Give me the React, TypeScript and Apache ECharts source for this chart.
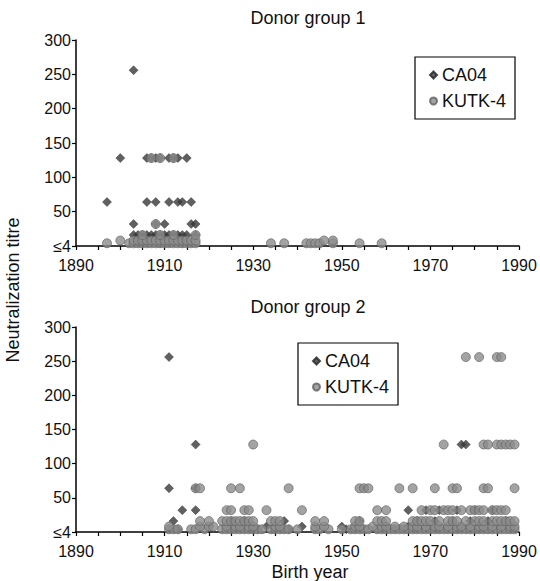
import React, { useEffect, useRef } from "react";
import * as echarts from "echarts";

// titre levels (index matches the year lists below)
const titres = [4, 8, 16, 32, 64, 128, 256];
const xMin = 1890;
const xMax = 1990;
const yMax = 300;
const seriesNames = ["CA04", "KUTK-4"];
const groupTitles = ["Donor group 1", "Donor group 2"];

// Donor group 1 — birth years per titre level
const g1CA04: number[][] = [
  [1905, 1909, 1914],
  [1904, 1906, 1910, 1912, 1914],
  [1903, 1904, 1905, 1906, 1907, 1908, 1909, 1910, 1911, 1912, 1913, 1914, 1915, 1917],
  [1903, 1908, 1910, 1916, 1917],
  [1897, 1906, 1908, 1911, 1913, 1914, 1916],
  [1900, 1906, 1907, 1908, 1909, 1911, 1912, 1913, 1915],
  [1903],
];
const g1KUTK: number[][] = [
  [1897, 1902, 1903, 1904, 1905, 1906, 1907, 1908, 1909, 1910, 1911, 1912, 1913, 1914, 1915, 1916, 1917, 1934, 1937, 1942, 1943, 1944, 1945, 1948, 1954, 1959],
  [1900, 1903, 1904, 1905, 1906, 1907, 1908, 1909, 1910, 1911, 1912, 1913, 1914, 1915, 1916, 1917, 1946, 1948],
  [1905, 1909, 1912, 1917],
  [1908],
  [],
  [1907, 1909, 1912],
  [],
];

// Donor group 2 — birth years per titre level
const g2CA04: number[][] = [
  [1913, 1931, 1938, 1951, 1970],
  [1933, 1941, 1950, 1960, 1965],
  [1912, 1925, 1928, 1937, 1954, 1967, 1971, 1975, 1979, 1983, 1987],
  [1914, 1917, 1965, 1969, 1972, 1976, 1980, 1984],
  [1911, 1917],
  [1917, 1977, 1978],
  [1911],
];
const g2KUTK: number[][] = [
  [1911, 1912, 1913, 1916, 1917, 1919, 1923, 1924, 1925, 1926, 1927, 1928, 1929, 1930, 1931, 1932, 1934, 1935, 1936, 1937, 1938, 1940, 1944, 1945, 1947, 1950, 1952, 1953, 1954, 1955, 1956, 1958, 1959, 1960, 1961, 1962, 1963, 1964, 1965, 1966, 1967, 1968, 1969, 1970, 1971, 1972, 1973, 1974, 1975, 1976, 1977, 1978, 1979, 1980, 1981, 1982, 1983, 1984, 1985, 1986, 1987, 1988, 1989],
  [1911, 1918, 1920, 1921, 1924, 1926, 1927, 1929, 1930, 1935, 1936, 1944, 1946, 1953, 1954, 1957, 1959, 1960, 1962, 1964, 1966, 1967, 1969, 1971, 1972, 1974, 1976, 1977, 1979, 1981, 1982, 1984, 1986, 1988, 1989],
  [1918, 1920, 1923, 1924, 1925, 1926, 1927, 1928, 1929, 1930, 1934, 1935, 1936, 1944, 1946, 1953, 1954, 1958, 1959, 1960, 1966, 1967, 1968, 1969, 1970, 1972, 1974, 1975, 1976, 1978, 1980, 1981, 1982, 1984, 1985, 1986, 1987, 1988, 1989],
  [1924, 1925, 1928, 1929, 1933, 1941, 1958, 1960, 1968, 1970, 1971, 1973, 1974, 1975, 1977, 1979, 1980, 1981, 1982, 1984, 1985, 1986, 1987],
  [1917, 1918, 1925, 1927, 1938, 1954, 1955, 1956, 1963, 1966, 1971, 1975, 1976, 1982, 1983, 1989],
  [1930, 1973, 1982, 1983, 1985, 1986, 1987, 1988, 1989],
  [1978, 1981, 1985, 1986],
];

const toPairs = (lists: number[][]) =>
  lists.flatMap((years, i) => years.map((y) => [y, titres[i]]));

const FONT = "Arial, 'Liberation Sans', sans-serif";

export default function App() {
  const ref = useRef<HTMLDivElement>(null);

  useEffect(() => {
    if (!ref.current) return;
    const chart = echarts.init(ref.current, undefined, { renderer: "svg" });

    const grids = [
      { left: 76, right: 21, top: 40, height: 206 },
      { left: 76, right: 21, top: 327, height: 205 },
    ];

    const xAxis = [0, 1].map((i) => ({
      type: "value",
      gridIndex: i,
      min: xMin,
      max: xMax,
      interval: 5,
      axisLine: { show: true, lineStyle: { color: "#000", width: 1.5 } },
      axisTick: { show: true, length: 4, inside: false, lineStyle: { color: "#000", width: 1.2 } },
      splitLine: { show: false },
      axisLabel: {
        color: "#111",
        fontSize: 16,
        fontFamily: FONT,
        margin: 11,
        formatter: (v: number) => ((v - xMin) % 20 === 0 ? String(v) : ""),
      },
    }));

    const yAxis = [0, 1].map((i) => ({
      type: "value",
      gridIndex: i,
      min: 0,
      max: yMax,
      interval: 50,
      axisLine: { show: true, lineStyle: { color: "#000", width: 1.5 } },
      axisTick: { show: true, length: 4, inside: false, lineStyle: { color: "#000", width: 1.2 } },
      splitLine: { show: false },
      axisLabel: {
        color: "#111",
        fontSize: 16,
        fontFamily: FONT,
        margin: 5,
        formatter: (v: number) => (v === 0 ? "≤4" : String(v)),
      },
    }));

    const diamondStyle = { color: "#383838", borderColor: "#222", borderWidth: 0.5 };
    const circleStyle = { color: "#8c8c8c", borderColor: "#5e5e5e", borderWidth: 0.8 };

    const groups = [
      [g1CA04, g1KUTK],
      [g2CA04, g2KUTK],
    ];
    const series: any[] = [];
    groups.forEach((g, i) => {
      series.push({
        type: "scatter",
        name: seriesNames[0],
        xAxisIndex: i,
        yAxisIndex: i,
        symbol: "diamond",
        symbolSize: 9,
        itemStyle: diamondStyle,
        data: toPairs(g[0]),
      });
      series.push({
        type: "scatter",
        name: seriesNames[1],
        xAxisIndex: i,
        yAxisIndex: i,
        symbol: "circle",
        symbolSize: 9,
        itemStyle: circleStyle,
        data: toPairs(g[1]),
      });
    });

    const legendBase = {
      orient: "vertical",
      data: [
        { name: seriesNames[0], icon: "diamond" },
        { name: seriesNames[1], icon: "circle" },
      ],
      itemWidth: 7,
      itemHeight: 7,
      itemGap: 8,
      padding: [9, 9, 9, 14],
      borderColor: "#000",
      borderWidth: 1.2,
      backgroundColor: "#fff",
      textStyle: { fontSize: 18, fontFamily: FONT, color: "#111" },
      selectedMode: false,
    };

    const textStyle = (text: string) => ({
      text,
      fontSize: 18,
      fontFamily: FONT,
      fill: "#111",
      align: "center",
      verticalAlign: "middle",
    });

    chart.setOption({
      animation: false,
      backgroundColor: "#fff",
      grid: grids,
      xAxis,
      yAxis,
      series,
      legend: [
        { ...legendBase, left: 415, top: 57 },
        { ...legendBase, left: 298, top: 343 },
      ],
      graphic: [
        { type: "text", x: 308, y: 18, style: textStyle(groupTitles[0]) },
        { type: "text", x: 308, y: 307, style: textStyle(groupTitles[1]) },
        { type: "text", x: 310, y: 572, style: textStyle("Birth year") },
        { type: "text", x: 13, y: 290, rotation: Math.PI / 2, style: textStyle("Neutralization titre") },
      ],
    });

    return () => chart.dispose();
  }, []);

  return (
    <div
      ref={ref}
      style={{ position: "absolute", left: 0, top: 0, width: 540, height: 581, background: "#fff" }}
    />
  );
}
